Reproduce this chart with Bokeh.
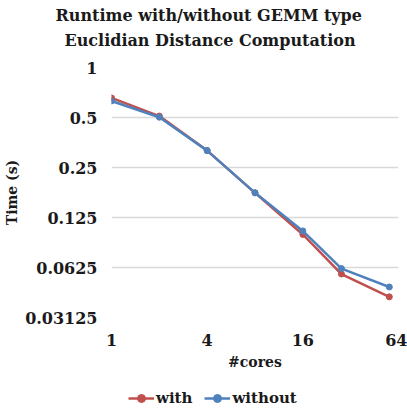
from bokeh.plotting import figure
from bokeh.layouts import column
from bokeh.models import FixedTicker, Legend, LegendItem, Title
from bokeh.embed import file_html
from bokeh.resources import INLINE

cores = [1, 2, 4, 8, 16, 28, 56]
time_with = [0.656, 0.51, 0.316, 0.176, 0.0988, 0.0571, 0.0416]
time_without = [0.629, 0.502, 0.316, 0.176, 0.1038, 0.0616, 0.0477]
y_ticks = [1, 0.5, 0.25, 0.125, 0.0625, 0.03125]
y_tick_labels = ["1", "0.5", "0.25", "0.125", "0.0625", "0.03125"]
x_ticks = [1, 4, 16, 64]
x_tick_labels = ["1", "4", "16", "64"]
title_lines = ["Runtime with/without GEMM type", "Euclidian Distance Computation"]
series_names = ["with", "without"]

FONT = "DejaVu Serif"
RED = "#c0504d"
BLUE = "#4f81bd"
TXT = "#1a1a1a"

p = figure(frame_width=287, frame_height=250, x_axis_type="log", y_axis_type="log",
           x_range=(1, 64), y_range=(0.03125, 1), title=None,
           output_backend="svg", toolbar_location=None,
           min_border_left=111, min_border_right=9, min_border_top=67, min_border_bottom=70)
p.outline_line_color = None

# line 2 added first (closest to the frame), then line 1
p.add_layout(Title(text=title_lines[1], align="left", offset=-47,
                   text_font=FONT, text_font_size="16px", text_font_style="bold",
                   text_color=TXT, standoff=35), "above")
p.add_layout(Title(text=title_lines[0], align="left", offset=-56,
                   text_font=FONT, text_font_size="16px", text_font_style="bold",
                   text_color=TXT, standoff=-27), "above")

p.line(cores, time_with, line_color=RED, line_width=2.5)
p.scatter(cores, time_with, fill_color=RED, line_color=RED, size=6)
p.line(cores, time_without, line_color=BLUE, line_width=2.5)
p.scatter(cores, time_without, fill_color=BLUE, line_color=BLUE, size=6)

for ax in (p.xaxis[0], p.yaxis[0]):
    ax.axis_line_color = None
    ax.major_tick_line_color = None
    ax.minor_tick_line_color = None
    ax.major_label_text_font = FONT
    ax.major_label_text_font_size = "16px"
    ax.major_label_text_font_style = "bold"
    ax.major_label_text_color = TXT
    ax.axis_label_text_font = FONT
    ax.axis_label_text_font_style = "bold"
    ax.axis_label_text_color = TXT

p.yaxis.ticker = FixedTicker(ticks=y_ticks)
p.yaxis.major_label_overrides = {t: l for t, l in zip(y_ticks, y_tick_labels)}
p.xaxis.ticker = FixedTicker(ticks=x_ticks)
p.xaxis.major_label_overrides = {t: l for t, l in zip(x_ticks, x_tick_labels)}
p.yaxis.axis_label = "Time (s)"
p.yaxis.axis_label_text_font_size = "14px"
p.yaxis.axis_label_standoff = 2
p.xaxis.axis_label = "#cores"
p.xaxis.axis_label_text_font_size = "14px"
p.xaxis.major_label_standoff = 10
p.yaxis.major_label_standoff = 8

p.xgrid.grid_line_color = None
p.ygrid.grid_line_color = "#d9d9d9"
p.ygrid.grid_line_width = 1.5

# legend strip below the chart (its ranges keep the series outside the strip's frame)
leg = figure(width=407, height=22, output_backend="svg", toolbar_location=None,
             x_range=(100, 200), y_range=(100, 200),
             x_axis_location=None, y_axis_location=None,
             min_border_left=0, min_border_right=0, min_border_top=0, min_border_bottom=0)
leg.outline_line_color = None
leg.grid.grid_line_color = None
items = []
for name, color, vals in zip(series_names, [RED, BLUE], [time_with, time_without]):
    lr = leg.line(cores, vals, line_color=color, line_width=2.5)
    sr = leg.scatter(cores, vals, fill_color=color, line_color=color, size=6)
    items.append(LegendItem(label=name, renderers=[lr, sr]))

legend = Legend(items=items, orientation="horizontal", location=(17, 1),
                label_text_font=FONT, label_text_font_size="15px",
                label_text_font_style="bold", label_text_color=TXT,
                border_line_color=None, background_fill_alpha=0,
                glyph_width=26, spacing=12, margin=0, padding=0, label_standoff=2)
leg.add_layout(legend, "center")

layout = column(p, leg, spacing=0)
open("out.html", "w").write(file_html(layout, INLINE))
